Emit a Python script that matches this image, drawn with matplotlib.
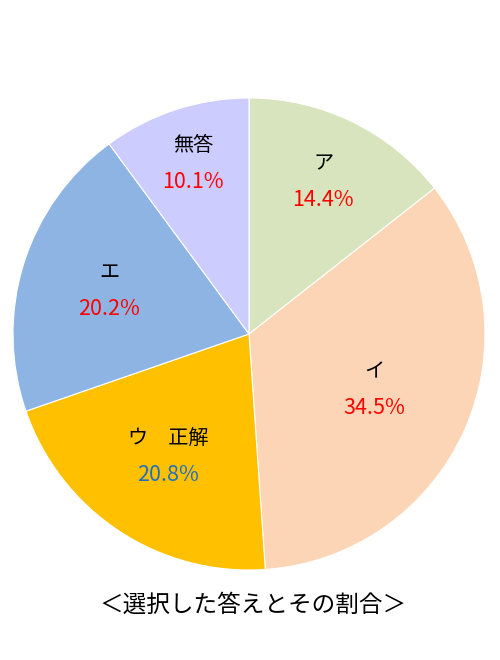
import numpy as np
import matplotlib.pyplot as plt

plt.rcParams['font.family'] = ['Noto Sans CJK JP', 'DejaVu Sans']

names = ['ア', 'イ', 'ウ\u3000正解', 'エ', '無答']
shares = [14.4, 34.5, 20.8, 20.2, 10.1]
colors = ['#D7E4BD', '#FBD5B5', '#FFC000', '#8EB4E3', '#CCCCFF']
pct_colors = ['#FF0000', '#FF0000', '#2070C0', '#FF0000', '#FF0000']
label_dist = [0.72, 0.58, 0.62, 0.62, 0.76]
title = '＜選択した答えとその割合＞'

fig = plt.figure(figsize=(5, 6.6), dpi=100)
ax = fig.add_axes([13 / 500, 90 / 660, 472 / 500, 472 / 660])

wedges, _ = ax.pie(shares, colors=colors, startangle=90, counterclock=False,
                   wedgeprops=dict(edgecolor='white', linewidth=0.8))
ax.set_xlim(-1, 1)
ax.set_ylim(-1, 1)
ax.set_aspect('equal')

for w, name, s, pc, d in zip(wedges, names, shares, pct_colors, label_dist):
    ang = np.deg2rad((w.theta1 + w.theta2) / 2)
    x, y = d * np.cos(ang), d * np.sin(ang)
    ax.text(x, y + 0.075, name, ha='center', va='center', fontsize=14.5, color='black')
    ax.text(x, y - 0.08, f'{s:.1f}%', ha='center', va='center', fontsize=15.5, color=pc)

fig.text(253 / 500, 1 - 605 / 660, title, ha='center', va='center', fontsize=17)

fig.savefig('out.png', dpi=100)
